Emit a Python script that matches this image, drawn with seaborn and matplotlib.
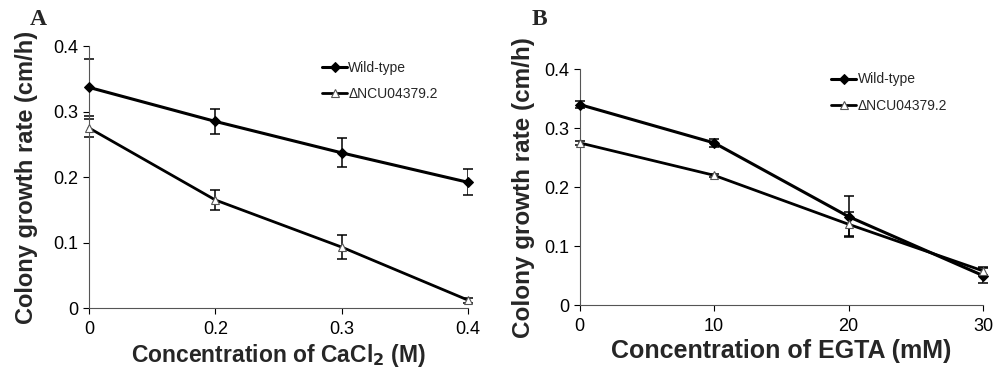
import matplotlib
matplotlib.use("Agg")
import matplotlib.pyplot as plt
import seaborn as sns
import pandas as pd

# Dados
cacl2_labels = ["0", "0.2", "0.3", "0.4"]
cacl2_wt = [0.337, 0.285, 0.237, 0.192]
cacl2_wt_err = [0.043, 0.019, 0.022, 0.020]
cacl2_mut = [0.275, 0.165, 0.093, 0.012]
cacl2_mut_err = [0.014, 0.015, 0.018, 0.004]

egta_labels = ["0", "10", "20", "30"]
egta_wt = [0.340, 0.275, 0.150, 0.050]
egta_wt_err = [0.006, 0.007, 0.035, 0.012]
egta_mut = [0.275, 0.220, 0.137, 0.058]
egta_mut_err = [0.003, 0.003, 0.020, 0.007]

series_names = ["Wild-type", "\u0394NCU04379.2"]

sns.set_style("white")
plt.rcParams["font.family"] = ["Liberation Sans", "DejaVu Sans"]

fig = plt.figure(figsize=(10.03, 3.72), dpi=100)
ax_a = fig.add_axes([0.0887, 0.172, 0.378, 0.704])
ax_b = fig.add_axes([0.578, 0.180, 0.402, 0.634])


def draw_panel(ax, labels, wt, wt_err, mut, mut_err, xlabel, xsize, ysize, ypad, legend_pos):
    pos = list(range(len(labels)))
    df = pd.DataFrame({
        "pos": pos * 2,
        "rate": wt + mut,
        "serie": [series_names[0]] * len(pos) + [series_names[1]] * len(pos),
    })
    # Barras de erro
    ax.errorbar(pos, wt, yerr=wt_err, fmt="none", ecolor="black",
                elinewidth=1.1, capsize=3.5, capthick=1.1, zorder=2)
    ax.errorbar(pos, mut, yerr=mut_err, fmt="none", ecolor="black",
                elinewidth=1.1, capsize=3.5, capthick=1.1, zorder=2)
    # Linhas
    sns.lineplot(data=df[df["serie"] == series_names[0]], x="pos", y="rate",
                 ax=ax, color="black", linewidth=2.2, marker="D",
                 markersize=5, markerfacecolor="black",
                 markeredgecolor="black", label=series_names[0], zorder=3)
    sns.lineplot(data=df[df["serie"] == series_names[1]], x="pos", y="rate",
                 ax=ax, color="black", linewidth=2.0, marker="^",
                 markersize=6, markerfacecolor="white",
                 markeredgecolor="#555555", markeredgewidth=0.8,
                 label=series_names[1], zorder=3)

    ax.set_xlim(0, len(labels) - 1)
    ax.set_ylim(0, 0.4)
    ax.set_xticks(pos)
    ax.set_xticklabels(labels)
    ax.set_yticks([0, 0.1, 0.2, 0.3, 0.4])
    ax.set_yticklabels(["0", "0.1", "0.2", "0.3", "0.4"])
    ax.tick_params(axis="both", labelsize=13, length=4, width=0.8,
                   direction="out", colors="black", bottom=True, left=True)
    ax.tick_params(axis="x", pad=5)
    for side in ["top", "right"]:
        ax.spines[side].set_visible(False)
    for side in ["left", "bottom"]:
        ax.spines[side].set_color("#555555")
        ax.spines[side].set_linewidth(0.8)
    ax.set_xlabel(xlabel, fontsize=xsize, fontweight="bold", labelpad=3)
    ax.set_ylabel("Colony growth rate (cm/h)", fontsize=ysize,
                  fontweight="bold", labelpad=ypad)
    for line in ax.lines:
        line.set_clip_on(False)
    leg = ax.legend(loc="upper left", bbox_to_anchor=legend_pos, frameon=False,
                    fontsize=10, handlelength=1.8, handletextpad=0.1,
                    labelspacing=0.9, borderaxespad=0)
    return leg


draw_panel(ax_a, cacl2_labels, cacl2_wt, cacl2_wt_err, cacl2_mut, cacl2_mut_err,
           "Concentration of CaCl$_\\mathbf{2}$ (M)", 16.5, 17, 11, (0.6, 0.965))
draw_panel(ax_b, egta_labels, egta_wt, egta_wt_err, egta_mut, egta_mut_err,
           "Concentration of EGTA (mM)", 18, 17.5, 7, (0.61, 1.01))

fig.text(0.030, 0.975, "A", fontsize=17, fontweight="bold",
         family=["Liberation Serif", "DejaVu Serif"], va="top")
fig.text(0.530, 0.975, "B", fontsize=17, fontweight="bold",
         family=["Liberation Serif", "DejaVu Serif"], va="top")

fig.savefig("out.png", dpi=100)
